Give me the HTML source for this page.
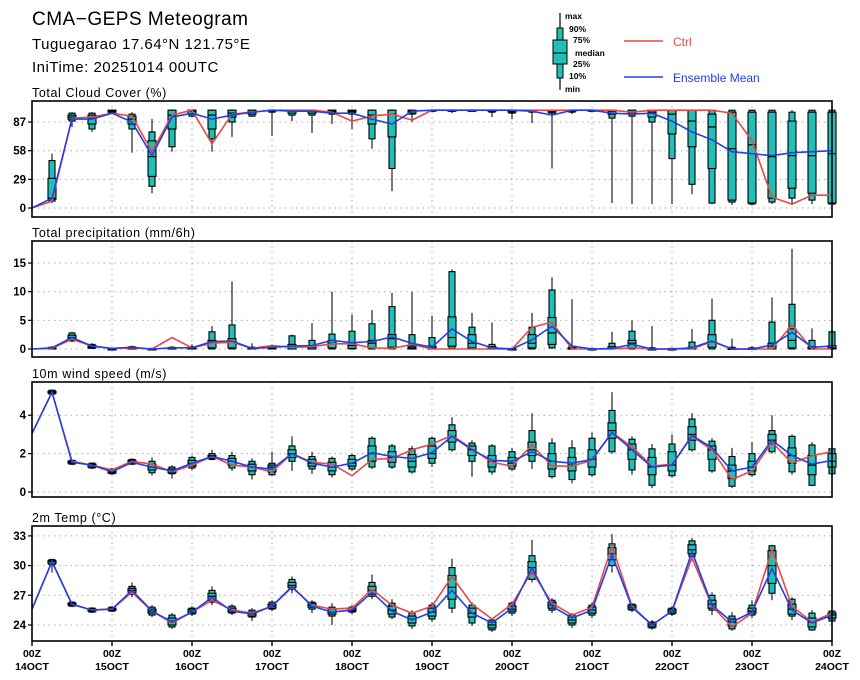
<!DOCTYPE html>
<html><head><meta charset="utf-8"><style>
html,body{margin:0;padding:0;background:#fff;}
svg{display:block;font-family:"Liberation Sans",sans-serif;}
</style></head><body>
<svg id="chart" width="860" height="680" viewBox="0 0 860 680" xmlns="http://www.w3.org/2000/svg">
<g>
<text x="32" y="25" font-size="19" letter-spacing="0.5">CMA−GEPS Meteogram</text>
<text x="32" y="49" font-size="15" letter-spacing="0.5">Tuguegarao 17.64°N 121.75°E</text>
<text x="32" y="72" font-size="15" letter-spacing="0.5">IniTime: 20251014 00UTC</text>
</g>
<g font-size="8.5" font-weight="bold">
<line x1="560" y1="13" x2="560" y2="90" stroke="#000" stroke-width="1.2"/>
<rect x="557" y="28" width="6" height="50" fill="#20c0b8" stroke="#000"/>
<rect x="553" y="40" width="14" height="24" fill="#20c0b8" stroke="#000"/>
<line x1="553" y1="53" x2="567" y2="53" stroke="#000"/>
<text x="565" y="19">max</text>
<text x="569" y="32">90%</text>
<text x="573" y="43">75%</text>
<text x="575" y="56">median</text>
<text x="573" y="67">25%</text>
<text x="569" y="79">10%</text>
<text x="565" y="92">min</text>
<line x1="624" y1="41" x2="663" y2="41" stroke="#e84848" stroke-width="1.5"/>
<text x="673" y="46" font-size="12" font-weight="normal" fill="#e84848">Ctrl</text>
<line x1="624" y1="77" x2="663" y2="77" stroke="#2040e8" stroke-width="1.5"/>
<text x="673" y="82" font-size="12" font-weight="normal" fill="#2040e8">Ensemble Mean</text>
</g>
<g id="panels"></g>
</svg>
<script>
// ---- Time axis ----
const dayLabels = ["14OCT","15OCT","16OCT","17OCT","18OCT","19OCT","20OCT","21OCT","22OCT","23OCT","24OCT"];
const nSteps = 40;
// ---- Cloud cover ----
const cloudMin = [null,5,82,77,95,56,15,57,92,57,72,92,73,88,76,85,80,60,17,87,97,96,97,92,90,86,40,95,99,5,4,4,4,14,4,3,3,4,4,4,4];
const cloudP10 = [null,7,88,80,96,80,22,62,93,70,87,93,97,94,94,95,95,70,40,95,98,98,98,97,96,97,96,97,99,91,93,87,50,24,5,6,4,6,10,8,4];
const cloudP25 = [null,9,90,85,97,85,32,80,95,80,92,95,98,96,96,97,97,85,72,96,99,99,99,98,97,98,97,98,99,95,96,92,75,62,40,8,5,10,20,15,5];
const cloudMed = [null,10,92,91,98,90,52,94,98,94,96,97,99,98,98,98,98,94,95,98,99,99,99,99,98,99,98,99,99,98,97,97,95,88,82,60,64,52,53,53,55];
const cloudP75 = [null,30,94,94,99,93,68,99,99,99,99,99,99,99,99,99,99,99,99,99,99,99,99,99,99,99,99,99,99,99,99,99,99,99,95,97,97,97,88,97,97];
const cloudP90 = [null,48,96,96,99,95,77,99,99,99,99,99,99,99,99,99,99,99,99,99,99,99,99,99,99,99,99,99,99,99,99,99,99,99,99,99,99,99,97,99,99];
const cloudMax = [null,55,97,97,99,97,90,99,99,99,99,99,99,99,99,99,99,99,99,99,99,99,99,99,99,99,99,99,99,99,99,99,99,99,99,99,99,99,99,99,99];
const cloudCtrl = [0,7,91,92,96,93,57,94,99,65,95,97,99,99,99,97,88,93,95,89,99,99,99,99,99,99,99,99,99,99,97,99,99,99,99,96,68,11,4,13,13];
const cloudMean = [0,10,90,90,96,87,53,92,96,90,94,97,99,98,98,96,96,90,85,98,99,99,99,99,99,98,94,99,99,96,95,96,88,77,69,57,55,53,56,57,58];
const cloudTicks = [0,29,58,87];
// ---- Precipitation ----
const prMin = [null,0,1.2,0,0,0,0,0,0,0,0,0,0,0,0,0,0,0,0,0,0,0,0,0,0,0,0,0,0,0,0,0,0,0,0,0,0,0,0,0,0];
const prP10 = [null,0,1.4,0.1,0,0,0,0,0,0,0,0,0,0,0,0,0,0,0,0,0,0.1,0,0,0,0,0.2,0,0,0,0,0,0,0,0,0,0,0,0,0,0];
const prP25 = [null,0,1.6,0.2,0,0,0,0,0,0.2,0.2,0,0,0,0,0.2,0.1,0.2,0.3,0,0,0.5,0.2,0,0,0.2,0.8,0,0,0,0.2,0,0,0,0.3,0,0,0,0.2,0,0];
const prMed = [null,0.1,2.0,0.4,0,0.2,0,0.1,0.1,1.0,1.2,0.1,0.1,0.3,0.3,1.0,0.6,1.0,1.8,0.2,0.2,2.0,1.0,0.1,0,1.0,2.8,0,0,0.1,1.0,0,0,0.1,1.2,0,0,0.5,1.5,0.1,0.2];
const prP75 = [null,0.2,2.4,0.6,0,0.3,0,0.2,0.3,1.5,1.8,0.2,0.2,0.8,0.6,1.5,1.0,1.5,2.5,0.5,0.5,5.6,2.5,0.4,0,2.5,5.5,0.2,0,0.4,1.5,0,0,0.3,2.5,0.1,0.1,1.0,3.5,0.4,0.6];
const prP90 = [null,0.3,2.8,0.8,0.1,0.4,0.1,0.3,0.4,3.0,4.2,0.3,0.4,2.3,1.5,2.6,3.1,4.4,7.4,2.5,2.0,13.5,3.8,0.8,0.1,3.8,10.3,0.5,0.1,1.0,3.1,0.2,0.1,1.2,5.0,0.3,0.2,4.7,7.8,1.5,3.0];
const prMax = [null,0.5,3.0,1.0,0.2,0.6,0.2,0.5,0.8,4.0,11.8,1.0,0.8,2.5,4.5,10.0,6.0,6.8,9.8,10.0,5.8,13.9,6.3,4.6,0.2,6.3,12.5,8.7,0.2,3.0,5.0,4.0,0.2,3.5,8.8,1.8,0.5,9.0,17.5,3.6,3.2];
const prCtrl = [0,0.1,1.7,0.5,0.1,0.2,0,2.0,0.2,1.0,1.2,0.1,0.6,0.3,0.4,0.9,0.9,0.2,0.1,0.8,0,0,0,0,0,3.8,4.7,0,0,0,0.2,0,0,0,1.3,0,0,0,4.2,0,0];
const prMean = [0,0.2,2.0,0.5,0.1,0.3,0,0.2,0.2,1.3,1.4,0.1,0.3,0.5,0.6,1.5,1.1,1.3,2.1,1.0,0.3,3.5,1.3,0.2,0,1.6,4.0,0.5,0,0.1,0.8,0,0,0.2,1.4,0,0,0.7,2.9,0.3,0.5];
const prTicks = [0,5,10,15];
// ---- Wind ----
const wsMin = [null,5.05,1.4,1.2,0.9,1.4,0.85,0.7,1.15,1.65,1.1,0.65,0.85,1.1,0.95,0.75,1.1,1.2,1.2,0.95,1.3,2.1,0.8,0.9,1.1,1.2,0.7,0.45,0.8,2.0,0.9,0.2,0.75,2.1,1.0,0.2,0.8,2.0,0.9,0.3,0.8];
const wsP10 = [null,5.1,1.45,1.25,0.95,1.45,1.0,0.95,1.25,1.7,1.25,0.9,0.9,1.6,1.2,0.9,1.2,1.3,1.3,1.05,1.5,2.2,1.6,1.05,1.2,1.6,0.8,0.65,0.9,2.1,1.15,0.35,0.85,2.2,1.1,0.3,0.9,2.1,1.05,0.35,0.95];
const wsP25 = [null,5.15,1.5,1.3,1.0,1.5,1.15,1.0,1.35,1.75,1.4,1.1,1.05,1.8,1.35,1.1,1.35,1.6,1.55,1.3,1.75,2.6,1.9,1.3,1.35,1.9,1.2,1.1,1.3,2.8,1.7,0.9,1.1,2.7,1.7,0.7,1.1,2.5,1.5,0.9,1.3];
const wsMed = [null,5.2,1.55,1.4,1.05,1.6,1.3,1.1,1.5,1.85,1.6,1.3,1.3,2.0,1.5,1.3,1.5,2.0,1.8,1.6,2.0,2.9,2.2,1.6,1.5,2.2,1.6,1.4,1.7,3.2,2.2,1.3,1.4,3.0,2.2,1.1,1.3,2.7,1.9,1.4,1.6];
const wsP75 = [null,5.25,1.6,1.45,1.1,1.65,1.45,1.2,1.65,1.9,1.75,1.45,1.4,2.2,1.7,1.55,1.7,2.4,2.1,1.95,2.4,3.2,2.4,1.9,1.8,2.6,2.0,1.8,2.2,3.6,2.5,1.8,2.1,3.4,2.4,1.4,1.6,3.0,2.3,1.9,2.0];
const wsP90 = [null,5.3,1.65,1.5,1.2,1.7,1.6,1.3,1.8,2.0,1.9,1.6,1.5,2.4,1.85,1.75,1.9,2.8,2.4,2.25,2.8,3.5,2.55,2.4,2.1,3.2,2.55,2.3,2.8,4.25,2.75,2.25,2.5,3.8,2.65,1.85,2.0,3.2,2.9,2.45,2.25];
const wsMax = [null,5.35,1.7,1.55,1.25,1.75,1.8,1.4,1.9,2.2,2.1,1.75,2.1,2.9,2.1,1.85,2.0,2.9,2.5,2.4,2.9,3.9,2.7,2.5,2.3,4.1,2.8,2.7,3.1,5.2,2.9,2.5,3.0,4.1,2.8,2.3,2.6,4.0,3.0,2.6,2.4];
const wsCtrl = [3.05,5.2,1.6,1.4,1.15,1.6,1.45,1.05,1.4,1.85,1.4,1.3,1.05,2.0,1.55,1.45,0.85,1.7,1.75,2.2,2.5,2.95,2.25,1.55,1.35,2.45,1.35,1.35,1.65,3.1,2.35,1.35,1.45,2.9,2.2,0.65,1.1,2.6,1.5,1.9,2.1];
const wsMean = [3.05,5.2,1.55,1.4,1.05,1.55,1.3,1.1,1.5,1.85,1.6,1.3,1.2,2.0,1.5,1.3,1.5,2.05,1.85,1.75,2.05,2.9,2.2,1.65,1.6,2.1,1.6,1.5,1.7,3.1,2.2,1.3,1.4,2.95,2.3,1.1,1.3,2.7,1.9,1.45,1.65];
const wsTicks = [0,2,4];
// ---- Temperature ----
const tMin = [null,29.3,25.8,25.2,25.3,26.8,24.8,23.6,24.9,26.0,25.0,24.4,25.4,27.2,25.2,24.0,25.1,26.6,24.6,23.6,24.3,25.2,23.9,23.3,24.9,28.3,25.2,23.7,24.7,29.3,25.3,23.5,24.9,30.5,25.0,23.4,24.7,26.5,24.5,23.4,24.3];
const tP10 = [null,30.1,25.9,25.3,25.4,27.1,25.0,23.8,25.1,26.3,25.2,24.8,25.6,27.6,25.6,24.9,25.3,26.9,24.8,23.9,24.6,25.7,24.2,23.5,25.2,28.6,25.5,24.0,25.0,30.0,25.5,23.7,25.1,30.9,25.5,23.6,25.0,27.2,24.9,23.5,24.4];
const tP25 = [null,30.2,26.0,25.4,25.5,27.3,25.2,24.0,25.2,26.5,25.3,24.9,25.7,27.8,25.8,25.1,25.4,27.1,25.1,24.2,24.9,26.6,24.8,23.7,25.4,29.2,25.7,24.2,25.2,30.6,25.6,23.8,25.2,31.2,25.7,23.9,25.2,28.2,25.1,23.8,24.7];
const tMed = [null,30.4,26.1,25.5,25.6,27.5,25.4,24.4,25.4,26.9,25.5,25.1,25.9,28.0,26.0,25.3,25.5,27.5,25.5,24.6,25.3,27.8,25.2,24.0,25.6,29.8,26.0,24.5,25.5,31.2,25.8,24.0,25.4,31.6,26.1,24.3,25.4,30.0,25.6,24.3,25.0];
const tP75 = [null,30.5,26.2,25.6,25.7,27.7,25.6,24.7,25.6,27.2,25.7,25.3,26.1,28.3,26.2,25.6,25.7,27.9,25.9,24.9,25.7,29.0,25.7,24.3,25.9,30.4,26.3,24.8,25.8,31.8,26.0,24.2,25.6,32.1,26.5,24.6,25.7,31.5,26.1,24.7,25.2];
const tP90 = [null,30.6,26.3,25.7,25.8,27.9,25.8,25.0,25.7,27.5,25.9,25.5,26.3,28.6,26.3,25.8,25.8,28.3,26.2,25.2,26.0,29.8,26.0,24.5,26.2,31.0,26.5,25.0,26.0,32.2,26.1,24.3,25.7,32.5,27.0,24.9,26.0,32.0,26.6,25.2,25.4];
const tMax = [null,30.7,26.4,25.8,25.9,28.3,26.0,25.2,25.9,27.9,26.1,25.7,26.5,28.9,26.5,26.2,26.0,29.1,26.6,25.5,26.3,30.7,26.3,24.7,26.4,32.6,26.7,25.2,26.3,33.2,26.2,24.5,25.9,32.8,27.3,25.3,26.5,32.1,26.8,25.5,25.5];
const tCtrl = [25.6,30.4,26.1,25.5,25.6,27.3,25.4,24.2,25.3,26.5,25.5,25.2,25.9,27.8,26.0,25.6,25.7,27.6,26.0,25.2,25.9,28.9,26.1,24.6,26.1,29.4,26.2,25.0,25.8,32.0,25.9,24.0,25.4,30.8,25.9,23.8,25.2,31.6,25.9,24.3,25.2];
const tMean = [25.6,30.4,26.1,25.5,25.6,27.5,25.4,24.3,25.3,26.8,25.4,25.1,25.9,27.9,25.9,25.3,25.5,27.3,25.4,24.5,25.3,27.5,25.2,24.2,25.7,29.8,25.9,24.7,25.5,31.1,25.8,24.0,25.4,31.4,26.0,24.3,25.3,29.7,25.5,24.2,25.0];
const tTicks = [24,27,30,33];

const NS = "http://www.w3.org/2000/svg";
const X0 = 32, X1 = 832;
function xs(i){ return X0 + (X1 - X0) * i / nSteps; }
function mk(tag, attrs, parent){
  const e = document.createElementNS(NS, tag);
  for (const k in attrs) e.setAttribute(k, attrs[k]);
  parent.appendChild(e);
  return e;
}
const root = document.getElementById("panels");

function panel(cfg){
  const g = mk("g", {}, root);
  
  
  const ys = v => cfg.top + (cfg.vmax - v) / (cfg.vmax - cfg.vmin) * (cfg.bot - cfg.top);
  const t = mk("text", {x: 32, y: cfg.top - 4, "font-size": 12.5, "letter-spacing": 0.6}, g);
  t.textContent = cfg.title;
  
  
  // grid
  for (let d = 1; d < dayLabels.length - 1; d++){
    const gl = mk("line", {x1: xs(d*4), x2: xs(d*4), y1: cfg.top, y2: cfg.bot, stroke: "#aaa", "stroke-width": 1, "stroke-dasharray": "1.5,4"}, g);
    
    
  }
  cfg.ticks.forEach(v => {
    const gl = mk("line", {x1: X0, x2: X1, y1: ys(v), y2: ys(v), stroke: "#aaa", "stroke-width": 1, "stroke-dasharray": "1.5,4"}, g);
    
    
    const tk = mk("line", {x1: X0 - 4, x2: X0, y1: ys(v), y2: ys(v), stroke: "#000", "stroke-width": 1.2}, g);
    
    
    const tl = mk("text", {x: X0 - 6, y: ys(v) + 4, "font-size": 11.5, "font-weight": "bold", "text-anchor": "end"}, g);
    tl.textContent = v;
    
    
  });
  // boxes
  for (let i = 1; i <= nSteps; i++){
    if (cfg.mx[i] == null) continue;
    const x = xs(i);
    const bg = mk("g", {}, g);
    
    
    mk("line", {x1: x, x2: x, y1: ys(cfg.mx[i]), y2: ys(cfg.mn[i]), stroke: "#222", "stroke-width": 1.2}, bg);
    const h1 = Math.max(1, ys(cfg.p10[i]) - ys(cfg.p90[i]));
    mk("rect", {x: x - 3, y: ys(cfg.p90[i]), width: 6, height: h1, fill: "#20c0b8", stroke: "#000", "stroke-width": 1.1}, bg);
    const h2 = Math.max(1, ys(cfg.p25[i]) - ys(cfg.p75[i]));
    mk("rect", {x: x - 4, y: ys(cfg.p75[i]), width: 8, height: h2, fill: "#20c0b8", stroke: "#000", "stroke-width": 1.1}, bg);
    mk("line", {x1: x - 4, x2: x + 4, y1: ys(cfg.md[i]), y2: ys(cfg.md[i]), stroke: "#000", "stroke-width": 1.2}, bg);
  }
  // lines
  const path = arr => arr.map((v, i) => (i ? "L" : "M") + xs(i).toFixed(1) + "," + ys(v).toFixed(1)).join("");
  const lc = mk("path", {d: path(cfg.ctrl), fill: "none", stroke: "#e84848", "stroke-width": 1.6}, g);
  
  
  const lm = mk("path", {d: path(cfg.mean), fill: "none", stroke: "#2040e8", "stroke-width": 1.6}, g);
  
  
  const fr = mk("rect", {x: X0, y: cfg.top, width: X1 - X0, height: cfg.bot - cfg.top, fill: "none", stroke: "#000", "stroke-width": 1.6}, g);
  
  
  return g;
}

panel({name:"cloud-cover", title:"Total Cloud Cover (%)", top:101, bot:217, vmin:-9.1, vmax:108.3, ticks:cloudTicks,
  mn:cloudMin,p10:cloudP10,p25:cloudP25,md:cloudMed,p75:cloudP75,p90:cloudP90,mx:cloudMax,ctrl:cloudCtrl,mean:cloudMean});
panel({name:"precipitation", title:"Total precipitation (mm/6h)", top:241, bot:357, vmin:-1.4, vmax:18.85, ticks:prTicks,
  mn:prMin,p10:prP10,p25:prP25,md:prMed,p75:prP75,p90:prP90,mx:prMax,ctrl:prCtrl,mean:prMean});
panel({name:"wind-speed", title:"10m wind speed (m/s)", top:382, bot:497, vmin:-0.26, vmax:5.73, ticks:wsTicks,
  mn:wsMin,p10:wsP10,p25:wsP25,md:wsMed,p75:wsP75,p90:wsP90,mx:wsMax,ctrl:wsCtrl,mean:wsMean});
const tg = panel({name:"temperature", title:"2m Temp (°C)", top:526, bot:641, vmin:22.38, vmax:34.0, ticks:tTicks,
  mn:tMin,p10:tP10,p25:tP25,md:tMed,p75:tP75,p90:tP90,mx:tMax,ctrl:tCtrl,mean:tMean});

// x axis labels
dayLabels.forEach((lab, d) => {
  const x = xs(d*4);
  const tk = mk("line", {x1: x, x2: x, y1: 641, y2: 646, stroke: "#000", "stroke-width": 1.4}, tg);
  
  
  const a = mk("text", {x: x, y: 657, "font-size": 10.5, "font-weight": "bold", "text-anchor": "middle"}, tg);
  a.textContent = "00Z";
  
  
  const b = mk("text", {x: x, y: 670, "font-size": 10.5, "font-weight": "bold", "text-anchor": "middle"}, tg);
  b.textContent = lab;
  
  
});
</script>
</body></html>
